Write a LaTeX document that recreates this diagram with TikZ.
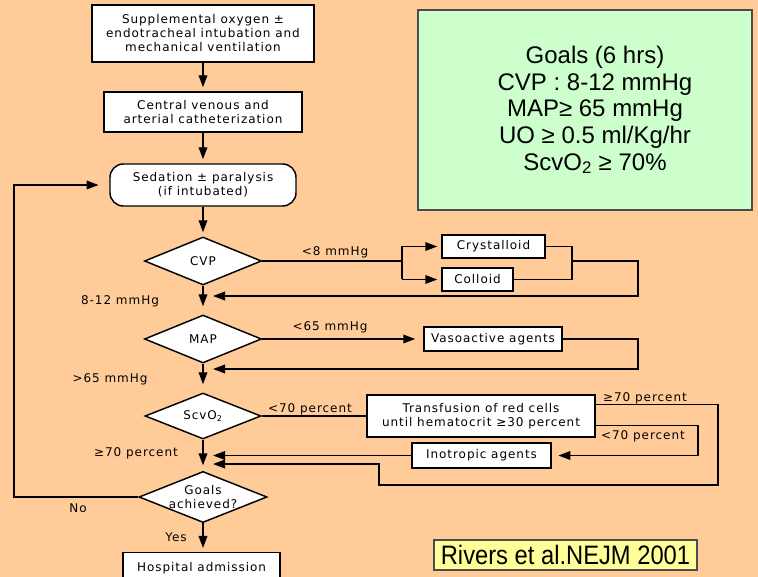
\documentclass[tikz,border=0pt]{standalone}
\usepackage{fontspec}
\setmainfont{DejaVu Sans}
\newfontfamily\flowfont[LetterSpace=8]{DejaVu Sans}
\newfontfamily\goalfont{Liberation Sans}
\newfontfamily\narrowfont[FakeStretch=0.89]{Liberation Sans}
\usetikzlibrary{shapes,arrows,arrows.meta,calc,positioning}
\definecolor{peach}{RGB}{255,204,153}
\definecolor{mint}{RGB}{204,255,204}
\definecolor{lemon}{RGB}{255,255,153}
\tikzset{
  box/.style={draw=black, fill=white, line width=1.1pt, inner sep=0pt, align=center,
    font=\flowfont\fontsize{9}{10.5}\selectfont},
  rbox/.style={box, rounded corners=10pt},
  test/.style={diamond, aspect=2.4, draw=black, fill=white, line width=1.1pt, inner sep=0pt,
    align=center, font=\flowfont\fontsize{9}{10}\selectfont},
  lbl/.style={font=\flowfont\fontsize{9}{10}\selectfont, inner sep=0pt},
  ln/.style={line width=1.1pt},
  arr/.style={ln, -{Triangle[length=9pt, width=6.5pt]}, shorten >=3pt}
}

\begin{document}
\begin{tikzpicture}[x=0.75pt, y=-0.75pt]
    %фон
    \clip (0,0) rectangle (758,577);
    \fill[peach] (0,0) rectangle (758,577);
    %цели
    \node[draw=black!70, fill=mint, line width=0.8pt, minimum width=250.5pt, minimum height=150pt]
      (target) at (585,110) {};
    \node[align=center, font=\goalfont\fontsize{18}{20}\selectfont] (goaltext) at (595,110)
      {Goals (6 hrs)\\CVP : 8-12 mmHg\\MAP≥ 65 mmHg\\UO ≥ 0.5 ml/Kg/hr\\ScvO\textsubscript{2} ≥ 70\%};
    \node[draw=black!70, fill=lemon, line width=0.8pt, minimum width=197.25pt, minimum height=22.5pt,
      font=\narrowfont\fontsize{20}{22}\selectfont] (ref) at (565.5,555) {Rivers et al.NEJM 2001};
    %блоки
    \node[box, minimum width=166.5pt, minimum height=42.75pt] (oxy) at (203,33.5)
      {Supplemental oxygen ±\\endotracheal intubation and\\mechanical ventilation};
    \node[box, minimum width=148.5pt, minimum height=30pt] (cath) at (203,112)
      {Central venous and\\arterial catheterization};
    \node[rbox, minimum width=139.5pt, minimum height=31.5pt] (sed) at (203,185)
      {Sedation ± paralysis\\(if intubated)};
    \node[test, minimum width=87.75pt, minimum height=36pt] (cvp) at (203,261) {CVP};
    \node[box, minimum width=77.25pt, minimum height=17.25pt] (cryst) at (493.5,246.5) {Crystalloid};
    \node[box, minimum width=53.25pt, minimum height=17.25pt] (coll) at (477.5,279.5) {Colloid};
    \node[test, minimum width=87.75pt, minimum height=36pt] (map) at (203,339) {MAP};
    \node[box, minimum width=103.5pt, minimum height=18pt] (vaso) at (493,339) {Vasoactive agents};
    \node[test, minimum width=87pt, minimum height=34.5pt] (scv) at (203,416) {ScvO\textsubscript{2}};
    \node[box, minimum width=171pt, minimum height=31.5pt] (transf) at (481,416)
      {Transfusion of red cells\\until hematocrit ≥30 percent};
    \node[box, minimum width=104.25pt, minimum height=18.75pt] (ino) at (481.5,455.5) {Inotropic agents};
    \node[test, minimum width=96pt, minimum height=37.5pt] (goal) at (203,497) {Goals\\achieved?};
    \node[box, minimum width=117.75pt, minimum height=22.5pt, anchor=north] (hosp) at (201.5,552)
      {Hospital admission};
    %вспомогательные точки
    \coordinate (split) at (402,0);
    \coordinate (merge) at (572,0);
    \coordinate (rside) at (638,0);
    \coordinate (back) at (213,0);
    \coordinate (mid) at (698,0);
    \coordinate (farcorner) at (718,485);
    \coordinate (loop) at (379,464);
    \coordinate (leftx) at (14,0);
    \coordinate (cvpin) at (213,296);
    \coordinate (mapin) at (213,369);
    %основная линия
    \draw[arr] (oxy) -- (cath);
    \draw[arr] (cath) -- (sed);
    \draw[arr] (sed) -- (cvp);
    \draw[arr, shorten >=6pt] (cvp) -- (map);
    \draw[arr, shorten >=6pt] (map) -- (scv);
    \draw[arr, shorten >=4pt] (scv) -- (goal);
    \draw[arr] (goal.south) -- (goal.south |- hosp.north);
    %CVP
    \draw[ln] (cvp.east) -- (cvp.east -| split);
    \draw[ln] (split |- cryst) -- (split |- coll);
    \draw[arr] (split |- cryst) -- (cryst);
    \draw[arr] (split |- coll) -- (coll);
    \draw[ln] (cryst) -| (merge |- coll) -- (coll);
    \draw[arr, shorten >=0pt] (merge |- cvp) -- (rside |- cvp) |- (cvpin);
    %MAP
    \draw[arr, shorten >=6pt] (map) -- (vaso);
    \draw[arr, shorten >=0pt] (vaso) -- (rside |- vaso) |- (mapin);
    %ScvO2
    \draw[ln] (scv) -- (transf);
    \draw[arr, shorten >=0pt] ($(transf.north east)+(0,10)$) -| (farcorner) -| (loop) -- (back |- loop);
    \draw[arr, shorten >=5pt] ($(transf.south east)+(0,-12)$) -| (mid |- ino) -- (ino);
    \draw[arr, shorten >=0pt] (ino) -- (back |- ino);
    %возврат
    \draw[arr, shorten >=8pt] (goal) -| (leftx |- sed) -- (sed);
    %подписи
    \node[lbl] (l8) at (335,252) {<8 mmHg};
    \node[lbl] (l812) at (120,301) {8-12 mmHg};
    \node[lbl] (l65) at (330,327) {<65 mmHg};
    \node[lbl] (g65) at (110,379) {>65 mmHg};
    \node[lbl] (l70a) at (310,409) {<70 percent};
    \node[lbl] (g70a) at (645,398) {≥70 percent};
    \node[lbl] (l70b) at (643,436) {<70 percent};
    \node[lbl] (g70b) at (136,453) {≥70 percent};
    \node[lbl] (no) at (78,508) {No};
    \node[lbl] (yes) at (176,537) {Yes};
\end{tikzpicture}
\end{document}
